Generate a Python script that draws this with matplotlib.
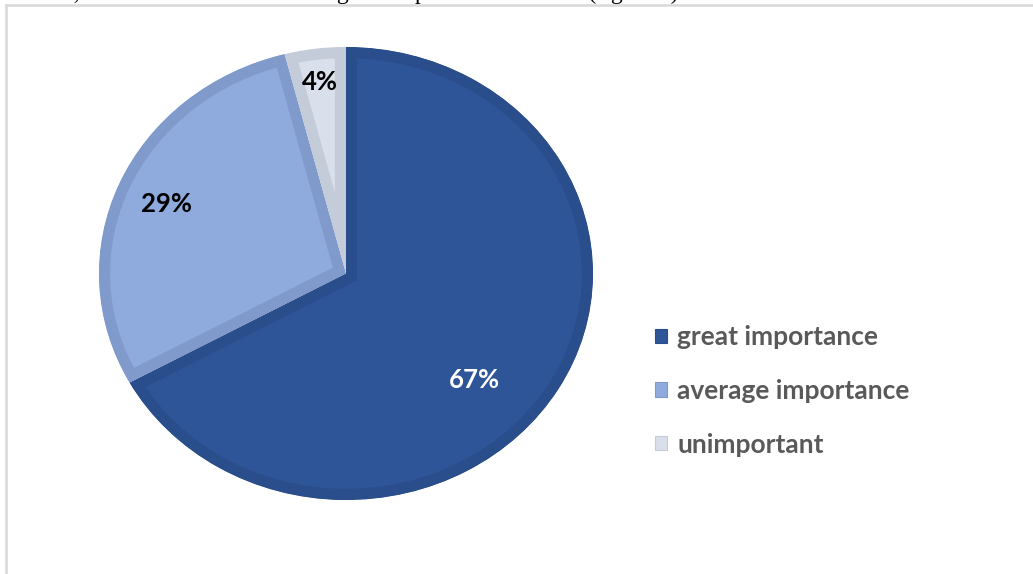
import numpy as np
import matplotlib.pyplot as plt
from matplotlib.lines import Line2D
from matplotlib.patches import Patch

# share of answers per category
categories = ['great importance', 'average importance', 'unimportant']
shares = [67, 29, 4]
pct_labels = ['67%', '29%', '4%']

fill_colors = ['#2E5597', '#8FAADC', '#D9E0EC']
edge_colors = ['#2A4D8B', '#7F9ACB', '#C4CBD9']
label_colors = ['white', 'black', 'black']
# (angle shift from the slice middle, distance from centre)
label_layout = [(-11.5, 0.70), (0.5, 0.79), (0.0, 0.85)]

W, H = 1033, 574
fig = plt.figure(figsize=(W / 100, H / 100), dpi=100)

# page border around the chart
fig.add_artist(Line2D([6 / W, 1], [1 - 5 / H, 1 - 5 / H], color='#D9D9D9', lw=1.8))
fig.add_artist(Line2D([6 / W, 6 / W], [0, 1 - 5 / H], color='#D9D9D9', lw=1.8))

# last line of the paragraph above, mostly cut off
fig.text(62 / W, 1 + 1.5 / H, 'n, which students rated as of great importance for them (figure 2).',
         fontfamily='Liberation Serif', fontsize=17, va='baseline', ha='left', color='black')

# the pie is a bit wider than tall
ax = fig.add_axes([99 / W, 1 - 500 / H, 494 / W, 453 / H])
wedges, _ = ax.pie(shares, colors=fill_colors, startangle=90, counterclock=False,
                   radius=1, wedgeprops=dict(linewidth=0))
for w, ec in zip(wedges, edge_colors):
    # stroke clipped to the slice itself -> inner border only
    w.set_edgecolor(ec)
    w.set_linewidth(16)
    w.set_clip_on(True)
    w.set_clip_path(w)
ax.set_aspect('auto')
ax.set_xlim(-1, 1)
ax.set_ylim(-1, 1)

start = 90.0
for share, txt, col, (shift, dist) in zip(shares, pct_labels, label_colors, label_layout):
    mid = start - share * 360 / 100 / 2
    start -= share * 360 / 100
    a = np.deg2rad(mid + shift)
    ax.text(dist * np.cos(a), dist * np.sin(a), txt, ha='center', va='center',
            fontfamily='Lato', fontweight='bold', fontsize=18.5, color=col)

handles = [Patch(facecolor=f, edgecolor=e, lw=0.8) for f, e in zip(fill_colors, edge_colors)]
fig.legend(handles, categories, loc='center left', bbox_to_anchor=(655 / W, 1 - 391 / H),
           frameon=False, borderpad=0, borderaxespad=0,
           handlelength=0.46, handleheight=0.46, handletextpad=0.38,
           labelspacing=1.12, labelcolor='#595959',
           prop=dict(family='Lato', weight='bold', size=19))

fig.savefig('out.png', dpi=100)
